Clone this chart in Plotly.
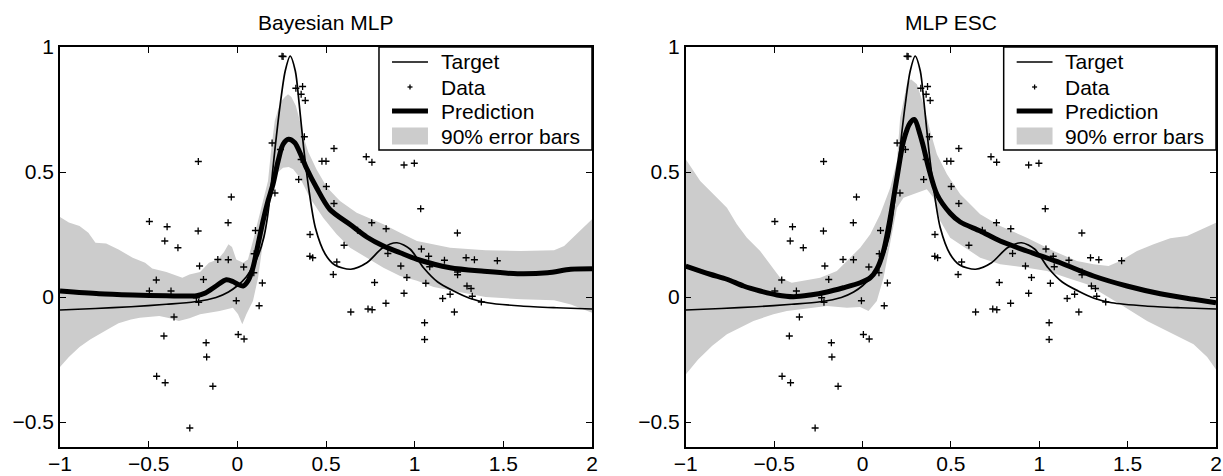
import plotly.graph_objects as go

# ---------------- data ----------------
data_x = [0.252, 0.258, 0.330, 0.368, 0.360, 0.383, 0.378, 0.196, 0.545, 0.477, 0.500, 0.360, 0.243,
          0.727, 0.759, 0.940, 0.998, -0.220, 0.346, 0.502, 0.212, -0.034, 0.545, 1.034,
          -0.496, -0.052, 0.758, -0.396, -0.221, 0.102, 0.839, 0.678, 1.241, 0.410, -0.409, -0.335,
          0.602, 1.038, 0.095, -0.110, -0.051, 0.409, 0.425, 1.079, 1.168, 1.290, 1.337, 1.466,
          0.849, -0.213, 0.036, 0.922, 1.085, 0.561, 0.541, 1.242, 1.242, -0.457, -0.191, 0.956,
          0.774, 0.141, 1.063, 1.295, 1.318, -0.496, -0.374, 0.940, 1.200, 1.325, 1.158, -0.231,
          -0.006, 1.376, -0.218, 0.838, 0.123, 0.737, 0.760, 0.640, 1.224, -0.357, 1.056, 0.005,
          -0.414, 0.038, 1.056, -0.176, -0.173, -0.455, -0.407, -0.138, -0.268, 0.093]
data_y = [0.963, 0.962, 0.835, 0.842, 0.811, 0.786, 0.641, 0.616, 0.594, 0.543, 0.543, 0.550, 0.590,
          0.561, 0.539, 0.528, 0.535, 0.542, 0.470, 0.442, 0.416, 0.400, 0.374, 0.353,
          0.302, 0.297, 0.297, 0.281, 0.264, 0.266, 0.273, 0.267, 0.256, 0.250, 0.224, 0.197,
          0.207, 0.192, 0.173, 0.150, 0.149, 0.163, 0.157, 0.163, 0.147, 0.157, 0.149, 0.145,
          0.174, 0.124, 0.120, 0.124, 0.121, 0.140, 0.090, 0.100, 0.089, 0.068, 0.070, 0.078,
          0.058, 0.056, 0.055, 0.044, 0.034, 0.024, 0.024, 0.015, 0.011, 0.003, -0.006, -0.003,
          -0.015, -0.020, -0.021, -0.025, -0.035, -0.048, -0.051, -0.060, -0.060, -0.080, -0.103, -0.150,
          -0.156, -0.168, -0.170, -0.183, -0.240, -0.317, -0.343, -0.357, -0.524, 0.097]

target_x = [-1.0, -0.8, -0.6, -0.4, -0.24, -0.12, -0.05, 0.0, 0.05, 0.09, 0.12, 0.15, 0.17, 0.19,
            0.213, 0.242, 0.27, 0.298, 0.327, 0.349, 0.374, 0.402, 0.44, 0.496, 0.55, 0.64, 0.73,
            0.82, 0.9, 0.975, 1.05, 1.13, 1.22, 1.31, 1.41, 1.6, 1.8, 2.0]
target_y = [-0.052, -0.046, -0.039, -0.029, -0.019, -0.002, 0.02, 0.045, 0.08, 0.125, 0.17, 0.24,
            0.32, 0.44, 0.597, 0.771, 0.904, 0.964, 0.904, 0.771, 0.597, 0.437, 0.277, 0.171, 0.128,
            0.111, 0.137, 0.197, 0.217, 0.191, 0.117, 0.060, 0.024, -0.005, -0.023, -0.036, -0.043, -0.048]

# Bayesian MLP
bayes_pred_x = [-1.0, -0.78, -0.59, -0.40, -0.23, -0.18, -0.12, -0.062, -0.025, 0.005, 0.032, 0.06,
                0.088, 0.117, 0.145, 0.173, 0.201, 0.23, 0.258, 0.289, 0.324, 0.353, 0.389, 0.447,
                0.522, 0.636, 0.73, 0.824, 0.918, 1.013, 1.2, 1.39, 1.58, 1.75, 1.88, 2.0]
bayes_pred_y = [0.024, 0.013, 0.008, 0.005, 0.005, 0.016, 0.044, 0.069, 0.062, 0.05, 0.044, 0.064,
                0.117, 0.211, 0.304, 0.384, 0.451, 0.544, 0.611, 0.631, 0.617, 0.577, 0.517, 0.437,
                0.35, 0.29, 0.24, 0.204, 0.177, 0.151, 0.117, 0.103, 0.093, 0.097, 0.111, 0.113]
bayes_up_x = [-1.0, -0.95, -0.89, -0.84, -0.80, -0.74, -0.67, -0.59, -0.52, -0.48, -0.40, -0.31,
              -0.27, -0.21, -0.16, -0.11, -0.075, -0.05, -0.03, -0.006, 0.032, 0.06, 0.088, 0.117,
              0.145, 0.173, 0.192, 0.211, 0.23, 0.249, 0.268, 0.286, 0.305, 0.33, 0.353, 0.371, 0.40,
              0.447, 0.504, 0.579, 0.673, 0.824, 0.918, 1.013, 1.2, 1.4, 1.6, 1.786, 1.843, 1.918, 2.0]
bayes_up_y = [0.320, 0.298, 0.284, 0.257, 0.217, 0.214, 0.190, 0.157, 0.137, 0.114, 0.100, 0.077,
              0.090, 0.100, 0.137, 0.150, 0.180, 0.211, 0.200, 0.150, 0.137, 0.150, 0.224, 0.304,
              0.384, 0.464, 0.597, 0.704, 0.75, 0.784, 0.80, 0.811, 0.80, 0.765, 0.704, 0.645, 0.58,
              0.51, 0.44, 0.384, 0.337, 0.291, 0.257, 0.224, 0.197, 0.187, 0.184, 0.187, 0.204, 0.257, 0.311]
bayes_lo_x = [-1.0, -0.95, -0.89, -0.83, -0.78, -0.72, -0.67, -0.6, -0.55, -0.44, -0.38, -0.33,
              -0.27, -0.21, -0.1, -0.025, 0.004, 0.028, 0.051, 0.088, 0.117, 0.145, 0.173, 0.201,
              0.23, 0.258, 0.29, 0.315, 0.353, 0.409, 0.484, 0.56, 0.636, 0.73, 0.824, 0.918, 1.013,
              1.107, 1.2, 1.3, 1.4, 1.6, 1.786, 1.881, 2.0]
bayes_lo_y = [-0.28, -0.24, -0.20, -0.17, -0.15, -0.125, -0.105, -0.09, -0.083, -0.076, -0.085,
              -0.096, -0.085, -0.069, -0.056, -0.043, -0.069, -0.109, -0.069, -0.016, 0.077, 0.22,
              0.36, 0.451, 0.50, 0.517, 0.52, 0.511, 0.477, 0.397, 0.317, 0.251, 0.197, 0.157, 0.117,
              0.084, 0.065, 0.04, 0.027, 0.015, 0.0, -0.009, -0.013, -0.03, -0.063]

# MLP ESC
esc_pred_x = [-1.0, -0.862, -0.767, -0.673, -0.579, -0.484, -0.39, -0.296, -0.201, -0.108, -0.013,
              0.044, 0.081, 0.119, 0.157, 0.195, 0.232, 0.27, 0.293, 0.336, 0.374, 0.421, 0.496,
              0.553, 0.666, 0.779, 0.93, 1.119, 1.307, 1.496, 1.685, 1.873, 2.0]
esc_pred_y = [0.124, 0.091, 0.071, 0.044, 0.024, 0.008, 0.001, 0.008, 0.020, 0.037, 0.057, 0.077,
              0.111, 0.184, 0.317, 0.477, 0.624, 0.697, 0.71, 0.624, 0.517, 0.411, 0.335, 0.30,
              0.264, 0.224, 0.184, 0.137, 0.084, 0.044, 0.013, -0.009, -0.023]
esc_up_x = [-1.0, -0.918, -0.843, -0.767, -0.711, -0.654, -0.579, -0.522, -0.466, -0.40, -0.334,
            -0.239, -0.145, -0.070, -0.013, 0.044, 0.100, 0.157, 0.195, 0.213, 0.251, 0.274, 0.308,
            0.345, 0.383, 0.421, 0.478, 0.553, 0.666, 0.779, 0.93, 1.081, 1.213, 1.307, 1.392,
            1.458, 1.553, 1.647, 1.741, 1.836, 1.93, 2.0]
esc_up_y = [0.551, 0.464, 0.411, 0.357, 0.291, 0.237, 0.184, 0.131, 0.077, 0.057, 0.064, 0.077,
            0.104, 0.157, 0.197, 0.251, 0.331, 0.437, 0.544, 0.717, 0.851, 0.871, 0.851, 0.771,
            0.664, 0.571, 0.491, 0.411, 0.331, 0.284, 0.237, 0.184, 0.144, 0.131, 0.124, 0.144,
            0.184, 0.211, 0.235, 0.244, 0.275, 0.297]
esc_lo_x = [-1.0, -0.93, -0.85, -0.767, -0.617, -0.504, -0.428, -0.353, -0.201, -0.088, -0.013,
            0.034, 0.081, 0.119, 0.157, 0.195, 0.232, 0.289, 0.364, 0.402, 0.44, 0.496, 0.553,
            0.666, 0.779, 0.93, 1.044, 1.157, 1.27, 1.364, 1.458, 1.61, 1.76, 1.873, 1.95, 2.0]
esc_lo_y = [-0.31, -0.25, -0.195, -0.149, -0.096, -0.069, -0.056, -0.049, -0.036, -0.043, -0.040,
            -0.056, -0.016, 0.077, 0.224, 0.357, 0.397, 0.411, 0.431, 0.397, 0.304, 0.237, 0.211,
            0.157, 0.131, 0.117, 0.104, 0.077, 0.051, 0.011, -0.029, -0.096, -0.149, -0.189, -0.24, -0.29]

titles = ["Bayesian MLP", "MLP ESC"]
legend_labels = ["Target", "Data", "Prediction", "90% error bars"]
x_ticks = [-1, -0.5, 0, 0.5, 1, 1.5, 2]
y_ticks = [-0.5, 0, 0.5, 1]

# ---------------- figure ----------------
FONT = "Liberation Sans, Arial, Helvetica, sans-serif"
FS = 21
BAND = "#cccccc"
TARGET_W = 1.7
PRED_W = 5
fig = go.Figure()

panels = [
    (bayes_pred_x, bayes_pred_y, bayes_up_x, bayes_up_y, bayes_lo_x, bayes_lo_y, "x", "y"),
    (esc_pred_x, esc_pred_y, esc_up_x, esc_up_y, esc_lo_x, esc_lo_y, "x2", "y2"),
]
for px, py, ux, uy, lx, ly, xa, ya in panels:
    fig.add_trace(go.Scatter(
        x=ux + lx[::-1], y=uy + ly[::-1], fill="toself", fillcolor=BAND,
        line=dict(width=0, color=BAND), mode="lines", name=legend_labels[3],
        xaxis=xa, yaxis=ya, hoverinfo="skip"))
    fig.add_trace(go.Scatter(
        x=target_x, y=target_y, mode="lines", name=legend_labels[0],
        line=dict(color="black", width=TARGET_W, shape="spline", smoothing=0.8),
        xaxis=xa, yaxis=ya))
    fig.add_trace(go.Scatter(
        x=data_x, y=data_y, mode="markers", name=legend_labels[1],
        marker=dict(symbol="cross-thin", size=5, color="black",
                    line=dict(color="black", width=1.3)),
        xaxis=xa, yaxis=ya))
    fig.add_trace(go.Scatter(
        x=px, y=py, mode="lines", name=legend_labels[2],
        line=dict(color="black", width=PRED_W, shape="spline", smoothing=0.8),
        xaxis=xa, yaxis=ya))

axis_common = dict(
    showline=True, linecolor="black", linewidth=1.5, mirror="ticks",
    ticks="inside", ticklen=6, tickwidth=1, tickcolor="black",
    showgrid=False, zeroline=False, automargin=False,
    tickfont=dict(family=FONT, size=FS, color="black"),
)
dom_left = [0.0, 0.4602]
dom_right = [0.5413, 1.0]
fig.update_layout(
    xaxis=dict(domain=dom_left, range=[-1, 2], tickvals=x_ticks, ticklabelstandoff=-3, **axis_common),
    yaxis=dict(domain=[0, 1], range=[-0.6, 1], tickvals=y_ticks, ticklabelstandoff=0, **axis_common),
    xaxis2=dict(domain=dom_right, range=[-1, 2], tickvals=x_ticks, anchor="y2", ticklabelstandoff=-3, **axis_common),
    yaxis2=dict(domain=[0, 1], range=[-0.6, 1], tickvals=y_ticks, anchor="x2", ticklabelstandoff=0, **axis_common),
)

# ---- boxed legend in the top-right corner of each panel (subplot-domain coordinates) ----
BOX_X0, BOX_Y0 = 0.5996, 0.7425
SAMPLE_X0, SAMPLE_X1, TEXT_X = 0.6241, 0.6917, 0.7124
ROW_Y = [0.9625, 0.9, 0.84, 0.7775]
PLUS_DX, PLUS_DY = 0.0047, 0.00625
for i, (xa, ya) in enumerate([("x", "y"), ("x2", "y2")]):
    xr, yr = xa + " domain", ya + " domain"
    fig.add_shape(type="rect", xref=xr, yref=yr, x0=BOX_X0, x1=1, y0=BOX_Y0, y1=1,
                  fillcolor="white", line=dict(color="black", width=1.5), layer="above")
    fig.add_shape(type="line", xref=xr, yref=yr, x0=SAMPLE_X0, x1=SAMPLE_X1, y0=ROW_Y[0], y1=ROW_Y[0],
                  line=dict(color="black", width=TARGET_W), layer="above")
    xm = (SAMPLE_X0 + SAMPLE_X1) / 2
    fig.add_shape(type="line", xref=xr, yref=yr, x0=xm - PLUS_DX, x1=xm + PLUS_DX, y0=ROW_Y[1], y1=ROW_Y[1],
                  line=dict(color="black", width=1.3), layer="above")
    fig.add_shape(type="line", xref=xr, yref=yr, x0=xm, x1=xm, y0=ROW_Y[1] - PLUS_DY, y1=ROW_Y[1] + PLUS_DY,
                  line=dict(color="black", width=1.3), layer="above")
    fig.add_shape(type="line", xref=xr, yref=yr, x0=SAMPLE_X0, x1=SAMPLE_X1, y0=ROW_Y[2], y1=ROW_Y[2],
                  line=dict(color="black", width=PRED_W), layer="above")
    fig.add_shape(type="rect", xref=xr, yref=yr, x0=SAMPLE_X0, x1=SAMPLE_X1,
                  y0=ROW_Y[3] - 0.021, y1=ROW_Y[3] + 0.021,
                  fillcolor=BAND, line=dict(width=0), layer="above")
    for lab, yy in zip(legend_labels, ROW_Y):
        fig.add_annotation(text=lab, xref=xr, yref=yr, x=TEXT_X, y=yy,
                           xanchor="left", yanchor="middle", showarrow=False,
                           font=dict(family=FONT, size=FS, color="black"))

for i, t in enumerate(titles):
    dom = dom_left if i == 0 else dom_right
    fig.add_annotation(
        text=t, x=(dom[0] + dom[1]) / 2, y=1.0625, xref="paper", yref="paper",
        xanchor="center", yanchor="middle", showarrow=False,
        font=dict(family=FONT, size=FS, color="black"))

fig.update_layout(
    width=1223, height=476,
    margin=dict(l=60, r=7, t=47, b=29, autoexpand=False),
    plot_bgcolor="white", paper_bgcolor="white",
    showlegend=False,
)

fig.write_html("out.html", config={"displayModeBar": False},
               post_script="document.body.style.margin='0';document.body.style.overflow='hidden';")
